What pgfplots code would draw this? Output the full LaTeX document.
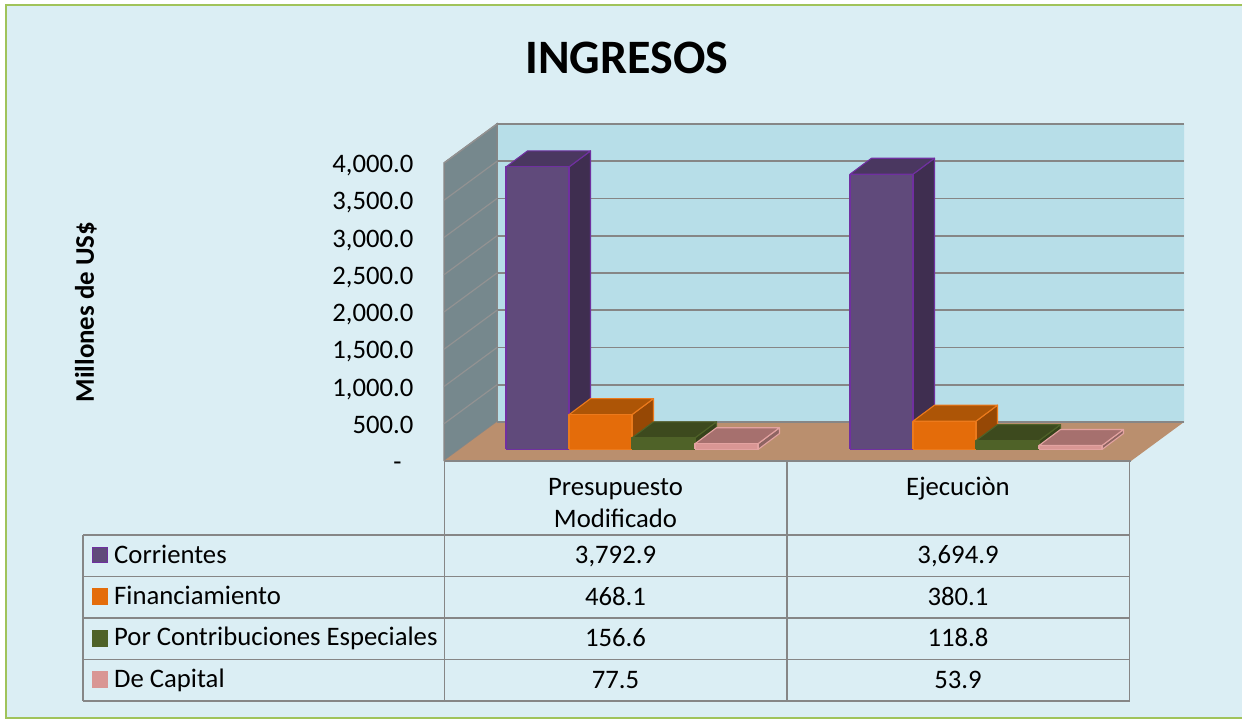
\documentclass[border=0pt]{standalone}
\usepackage{fontspec}
\setmainfont{Carlito}
\usepackage{pgfplots}
\pgfplotsset{compat=1.18}

\definecolor{panel}{HTML}{DBEEF4}
\definecolor{frameg}{HTML}{A0C35A}
\definecolor{wallback}{HTML}{B7DEE8}
\definecolor{wallside}{HTML}{76888D}
\definecolor{floorc}{HTML}{BA8F6E}
\definecolor{gridc}{HTML}{868686}
\definecolor{sidegrid}{HTML}{929292}
\definecolor{purF}{HTML}{604A7B}\definecolor{purS}{HTML}{3F2E50}\definecolor{purT}{HTML}{4A3760}\definecolor{purE}{HTML}{7030A0}
\definecolor{oraF}{HTML}{E46C0A}\definecolor{oraS}{HTML}{964805}\definecolor{oraT}{HTML}{AD5506}\definecolor{oraE}{HTML}{EC7A1C}
\definecolor{greF}{HTML}{4F6228}\definecolor{greS}{HTML}{36431B}\definecolor{greT}{HTML}{3D4A1E}\definecolor{greE}{HTML}{4F6228}
\definecolor{pinF}{HTML}{D99694}\definecolor{pinS}{HTML}{8E6462}\definecolor{pinT}{HTML}{A6706E}\definecolor{pinE}{HTML}{E3A3A1}

% depth of the 3d box in px, and the same in data units (0.0745 px per unit)
\def\dpx{21.5}
\def\dval{214.8}
\def\baseval{154.4}
\def\wallval{523.5}
\def\barw{63}

% \threedbar{left x}{value}{front}{side}{top}{edge}
\newcommand{\threedbar}[6]{%
  \pgfmathsetmacro\xa{#1}\pgfmathsetmacro\xb{#1+\barw}\pgfmathsetmacro\xc{#1+\barw+\dpx}\pgfmathsetmacro\xd{#1+\dpx}%
  \pgfmathsetmacro\ya{\baseval}\pgfmathsetmacro\yb{\baseval+#2}%
  \pgfmathsetmacro\yc{\baseval+#2+\dval}\pgfmathsetmacro\yd{\baseval+\dval}%
  \edef\tmpplot{%
    \noexpand\addplot[fill=#4,draw=#6,line width=1.1pt,line join=round] coordinates {(\xb,\ya)(\xc,\yd)(\xc,\yc)(\xb,\yb)(\xb,\ya)};
    \noexpand\addplot[fill=#5,draw=#6,line width=1.1pt,line join=round] coordinates {(\xa,\yb)(\xb,\yb)(\xc,\yc)(\xd,\yc)(\xa,\yb)};
    \noexpand\addplot[fill=#3,draw=#6,line width=1.1pt,line join=round] coordinates {(\xa,\ya)(\xb,\ya)(\xb,\yb)(\xa,\yb)(\xa,\ya)};
  }\tmpplot}

\begin{document}
\begin{tikzpicture}[x=1pt,y=-1pt]
  \path[use as bounding box] (0,0) rectangle (1242,719);
  \fill[panel] (6,5) rectangle (1260,718);
  \draw[frameg,line width=2.2pt] (6,5) rectangle (1260,718);

  \begin{axis}[
    at={(444pt,-461pt)}, anchor=south west,
    scale only axis, width=740pt, height=337pt,
    xmin=444, xmax=1184, ymin=0, ymax=4523.5,
    clip=false,
    axis line style={draw=none},
    xtick=\empty,
    ytick={500,1000,...,4000},
    extra y ticks={0},
    extra y tick labels={-\rule{12pt}{0pt}},
    major tick length=0pt,
    tick style={draw=none},
    scaled y ticks=false,
    yticklabel style={
      font=\fontsize{26.7}{27}\selectfont, anchor=base east, xshift=-27pt, yshift=-9.5pt,
      /pgf/number format/.cd, fixed, fixed zerofill, precision=1,
      1000 sep={,}, assume math mode=true},
    title={INGRESOS},
    title style={at={(axis description cs:0.247,1.196)}, anchor=center, yshift=-6pt,
      font=\fontsize{48}{50}\selectfont\bfseries},
    ylabel={Millones de US\$},
    ylabel style={at={(axis description cs:-0.484,0.442)}, anchor=center,
      font=\fontsize{26.9}{28}\selectfont\bfseries},
  ]
    % walls and floor
    \addplot[fill=wallback,draw=none] coordinates {(497,523.5)(1184,523.5)(1184,4523.5)(497,4523.5)(497,523.5)};
    \addplot[gridc,line width=1.5pt] coordinates {(497,523.5)(497,4523.5)(1184,4523.5)};
    \addplot[fill=wallside,draw=gridc,line width=1.5pt] coordinates {(444,0)(497,523.5)(497,4523.5)(444,4000)(444,0)};
    \foreach \v in {500,1000,...,4000}{
      \pgfmathsetmacro\w{\v+\wallval}
      \edef\tmp{\noexpand\addplot[gridc,line width=1.7pt] coordinates {(497,\w)(1184,\w)};
        \noexpand\addplot[sidegrid,line width=1.2pt] coordinates {(444,\v)(497,\w)};}\tmp
    }
    \addplot[fill=floorc,draw=none] coordinates {(444,0)(497,523.5)(1184,523.5)(1131,0)(444,0)};
    \addplot[gridc,line width=1.2pt] coordinates {(497,523.5)(1184,523.5)};

    % Presupuesto Modificado
    \threedbar{506}{3792.9}{purF}{purS}{purT}{purE}
    \threedbar{569}{468.1}{oraF}{oraS}{oraT}{oraE}
    \threedbar{632}{156.6}{greF}{greS}{greT}{greE}
    \threedbar{695}{77.5}{pinF}{pinS}{pinT}{pinE}
    % Ejecucion
    \threedbar{850}{3694.9}{purF}{purS}{purT}{purE}
    \threedbar{913}{380.1}{oraF}{oraS}{oraT}{oraE}
    \threedbar{976}{118.8}{greF}{greS}{greT}{greE}
    \threedbar{1039}{53.9}{pinF}{pinS}{pinT}{pinE}
  \end{axis}

  % data table under the chart
  \draw[gridc,line width=1.8pt]
    (444.5,461) -- (1130.5,461)
    (444.5,461) -- (444.5,701) (787,461) -- (787,701) (1129.5,461) -- (1129.5,701)
    (83,535) -- (1129.5,535) (83,576.5) -- (1129.5,576.5) (83,618) -- (1129.5,618)
    (83,659.5) -- (1129.5,659.5) (83,701) -- (1129.5,701) (83,535) -- (83,701);

  \tikzset{cell/.style={font=\fontsize{26.7}{32}\selectfont, anchor=base, inner sep=0pt, text=black},
    lab/.style={font=\fontsize{26.7}{32}\selectfont, anchor=base west, inner sep=0pt, text=black}}
  \node[cell] at (615.5,495) {Presupuesto};
  \node[cell] at (615.5,527.3) {Modificado};
  \node[cell] at (958,495) {Ejecuciòn};

  % key centre, colours, name, label baseline, value baseline
  \foreach \ky/\kc/\ke/\name/\lb/\vb/\va/\vc in {
      555/purF/purE/Corrientes/563/563.3/{3,792.9}/{3,694.9},
      596.5/oraF/oraF/Financiamiento/604/605/468.1/380.1,
      638.5/greF/greF/Por Contribuciones Especiales/645.7/646.7/156.6/118.8,
      679.5/pinF/pinF/De Capital/687/688.3/77.5/53.9}{
    \filldraw[fill=\kc,draw=\ke,line width=0.8pt] (92.5,\ky-7.7) rectangle (107.5,\ky+7.7);
    \node[lab] at (114,\lb) {\name};
    \node[cell] at (615.5,\vb) {\va};
    \node[cell] at (958,\vb) {\vc};
  }
\end{tikzpicture}
\end{document}
